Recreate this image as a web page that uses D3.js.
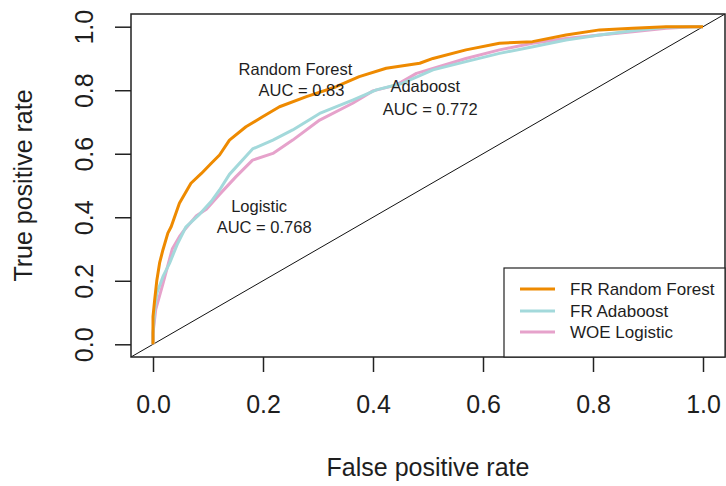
<!DOCTYPE html>
<html>
<head>
<meta charset="utf-8">
<script src="https://cdn.jsdelivr.net/npm/d3@7/dist/d3.min.js"></script>
<style>
  html, body { margin: 0; padding: 0; background: #fff; }
  svg { display: block; }
  text { font-family: "Liberation Sans", Arial, sans-serif; fill: #1e1e1e; }
</style>
</head>
<body>
<svg id="chart" width="726" height="486"></svg>
<script>
// ROC curves: [false positive rate, true positive rate]
const rfRoc = [
  [0, 0], [0, 0.04], [0, 0.087], [0.003, 0.139], [0.007, 0.202], [0.012, 0.256],
  [0.018, 0.297], [0.027, 0.35], [0.033, 0.37], [0.048, 0.444], [0.069, 0.507],
  [0.088, 0.538], [0.106, 0.57], [0.121, 0.596], [0.139, 0.643], [0.169, 0.685],
  [0.2, 0.717], [0.23, 0.748], [0.279, 0.78], [0.333, 0.811], [0.375, 0.843],
  [0.424, 0.869], [0.485, 0.885], [0.509, 0.9], [0.569, 0.927], [0.63, 0.948],
  [0.69, 0.953], [0.751, 0.974], [0.812, 0.99], [0.872, 0.995], [0.933, 1], [1, 1]
];
const adaRoc = [
  [0, 0], [0, 0.035], [0.003, 0.108], [0.007, 0.161], [0.018, 0.213], [0.03, 0.255],
  [0.045, 0.318], [0.06, 0.37], [0.085, 0.41], [0.106, 0.45], [0.121, 0.486],
  [0.139, 0.535], [0.181, 0.615], [0.218, 0.643], [0.254, 0.675], [0.303, 0.727],
  [0.363, 0.769], [0.406, 0.801], [0.454, 0.822], [0.509, 0.864], [0.569, 0.89],
  [0.63, 0.916], [0.691, 0.937], [0.751, 0.958], [0.812, 0.974], [0.872, 0.987],
  [0.933, 0.998], [1, 1]
];
const logRoc = [
  [0, 0], [0, 0.035], [0.005, 0.11], [0.018, 0.19], [0.035, 0.3], [0.048, 0.339],
  [0.057, 0.36], [0.079, 0.405], [0.097, 0.425], [0.121, 0.472], [0.151, 0.528],
  [0.181, 0.58], [0.218, 0.601], [0.254, 0.643], [0.303, 0.706], [0.363, 0.759],
  [0.4, 0.798], [0.442, 0.816], [0.479, 0.853], [0.569, 0.9], [0.63, 0.927],
  [0.69, 0.948], [0.751, 0.963], [0.812, 0.974], [0.872, 0.984], [0.933, 0.995],
  [0.981, 1], [1, 1]
];

const seriesNames = ["FR Random Forest", "FR Adaboost", "WOE Logistic"];
const seriesColors = ["#ee8a00", "#a3d9db", "#e6a2cb"];
const tickValues = [0, 0.2, 0.4, 0.6, 0.8, 1.0];

// AUC annotations: [line 1, line 2, fpr, tpr of line 1 centre, tpr of line 2 centre, x offset of line 2]
const aucLabels = [
  { lines: ["Random Forest", "AUC = 0.83"], pos: [[0.259, 0.868], [0.27, 0.8]] },
  { lines: ["Adaboost", "AUC = 0.772"], pos: [[0.495, 0.812], [0.504, 0.74]] },
  { lines: ["Logistic", "AUC = 0.768"], pos: [[0.193, 0.437], [0.202, 0.368]] }
];

const svg = d3.select("#chart");
const x = d3.scaleLinear().domain([-0.04, 1.04]).range([131, 725]);
const y = d3.scaleLinear().domain([-0.04, 1.04]).range([357, 14]);

const plot = svg.append("g");
plot.append("clipPath").attr("id", "clip")
  .append("rect").attr("x", 131).attr("y", 14).attr("width", 594).attr("height", 343);

// chance diagonal
plot.append("line")
  .attr("clip-path", "url(#clip)")
  .attr("x1", x(-0.04)).attr("y1", y(-0.04))
  .attr("x2", x(1.04)).attr("y2", y(1.04))
  .attr("stroke", "#111").attr("stroke-width", 1);

const line = d3.line().x(d => x(d[0])).y(d => y(d[1]));
const curves = [rfRoc, adaRoc, logRoc];
[2, 1, 0].forEach(i => {
  plot.append("path")
    .attr("d", line(curves[i]))
    .attr("fill", "none")
    .attr("stroke", seriesColors[i])
    .attr("stroke-width", 3)
    .attr("stroke-linejoin", "round");
});

// AUC text
aucLabels.forEach(l => {
  l.lines.forEach((t, k) => {
    plot.append("text")
      .attr("x", x(l.pos[k][0])).attr("y", y(l.pos[k][1]))
      .attr("text-anchor", "middle").attr("dominant-baseline", "central")
      .style("font-size", "16.5px")
      .text(t);
  });
});

// plot frame
svg.append("rect")
  .attr("x", 131).attr("y", 14).attr("width", 594).attr("height", 343)
  .attr("fill", "none").attr("stroke", "#222").attr("stroke-width", 1.5);

// axes
const xAxis = d3.axisBottom(x).tickValues(tickValues).tickFormat(d3.format(".1f"))
  .tickSize(15).tickPadding(23);
const gx = svg.append("g").attr("transform", "translate(0,357)").call(xAxis);
gx.select(".domain").remove();
gx.selectAll("line").attr("stroke", "#222").attr("stroke-width", 1.5);
gx.selectAll("text").style("font-size", "25px").attr("fill", "#1e1e1e");

const yAxis = d3.axisLeft(y).tickValues(tickValues).tickFormat(d3.format(".1f"))
  .tickSize(16).tickPadding(0);
const gy = svg.append("g").attr("transform", "translate(131,0)").call(yAxis);
gy.select(".domain").remove();
gy.selectAll("line").attr("stroke", "#222").attr("stroke-width", 1.5);
gy.selectAll("text")
  .attr("x", null).attr("dy", null)
  .attr("text-anchor", "middle")
  .attr("transform", "translate(-38,0) rotate(-90)")
  .attr("y", 0)
  .style("font-size", "25px").attr("fill", "#1e1e1e");

// axis titles
svg.append("text")
  .attr("x", 428).attr("y", 476)
  .attr("text-anchor", "middle")
  .style("font-size", "25px")
  .text("False positive rate");
svg.append("text")
  .attr("transform", "translate(32,185.5) rotate(-90)")
  .attr("text-anchor", "middle")
  .style("font-size", "25px")
  .text("True positive rate");

// legend
const lg = svg.append("g");
lg.append("rect")
  .attr("x", 504).attr("y", 268).attr("width", 221).attr("height", 89)
  .attr("fill", "#fff").attr("stroke", "#222").attr("stroke-width", 1.2);
const legendY = [289, 311, 332];
seriesNames.forEach((name, i) => {
  lg.append("line")
    .attr("x1", 520).attr("x2", 555)
    .attr("y1", legendY[i]).attr("y2", legendY[i])
    .attr("stroke", seriesColors[i]).attr("stroke-width", 3);
  lg.append("text")
    .attr("x", 570).attr("y", legendY[i])
    .attr("dominant-baseline", "central")
    .style("font-size", "17px")
    .text(name);
});
</script>
</body>
</html>
